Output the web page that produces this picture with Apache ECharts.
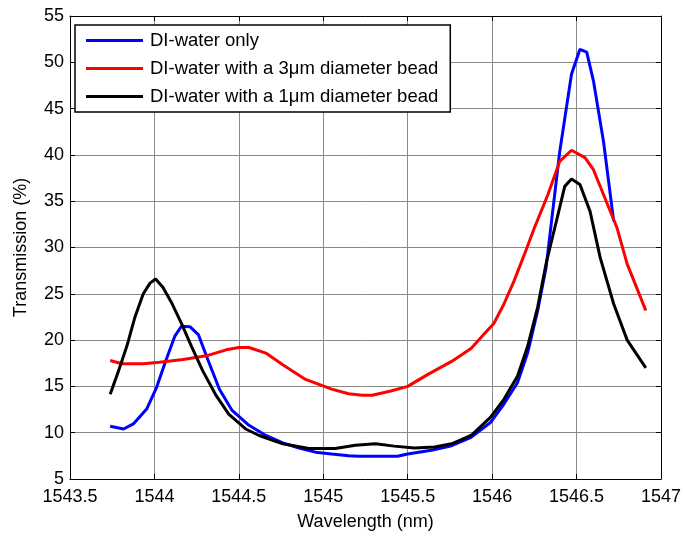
<!DOCTYPE html>
<html><head><meta charset="utf-8">
<script src="https://cdn.jsdelivr.net/npm/echarts@6/dist/echarts.min.js"></script>
<style>html,body{margin:0;padding:0;background:#fff}#c{width:684px;height:536px}</style>
</head><body><div id="c"></div>
<script>
const seriesNames = ['DI-water only', 'DI-water with a 3\u03bcm diameter bead', 'DI-water with a 1\u03bcm diameter bead'];
const xTicks = [1543.5, 1544, 1544.5, 1545, 1545.5, 1546, 1546.5, 1547];
const yTicks = [5, 10, 15, 20, 25, 30, 35, 40, 45, 50, 55];

const waterOnly = [
 [1543.738,10.7],[1543.817,10.4],[1543.875,10.95],[1543.954,12.55],[1544.013,14.9],[1544.062,17.5],
 [1544.12,20.4],[1544.16,21.5],[1544.21,21.45],[1544.26,20.6],[1544.316,17.9],[1544.385,14.7],
 [1544.46,12.4],[1544.56,10.8],[1544.66,9.7],[1544.76,8.9],[1544.856,8.35],[1544.954,7.9],
 [1545.05,7.7],[1545.15,7.5],[1545.21,7.45],[1545.44,7.45],[1545.5,7.7],[1545.64,8.1],
 [1545.76,8.6],[1545.875,9.5],[1545.99,11.1],[1546.07,13.1],[1546.15,15.4],[1546.21,18.6],
 [1546.27,23.2],[1546.32,27.9],[1546.40,40.3],[1546.47,48.7],[1546.52,51.4],[1546.56,51.1],
 [1546.60,48.0],[1546.66,41.4],[1546.72,32.85]
];
const bead3um = [
 [1543.738,17.8],[1543.807,17.45],[1543.934,17.45],[1544.03,17.6],[1544.17,17.9],[1544.307,18.3],
 [1544.425,18.95],[1544.50,19.2],[1544.56,19.2],[1544.66,18.6],[1544.76,17.35],[1544.895,15.75],
 [1545.05,14.7],[1545.15,14.2],[1545.23,14.05],[1545.29,14.05],[1545.40,14.5],[1545.5,15.0],
 [1545.62,16.3],[1545.76,17.7],[1545.875,19.1],[1545.95,20.6],[1546.01,21.8],[1546.07,23.9],
 [1546.13,26.4],[1546.19,29.2],[1546.25,32.1],[1546.33,35.7],[1546.40,39.3],[1546.47,40.5],
 [1546.55,39.7],[1546.60,38.4],[1546.66,35.7],[1546.74,32.1],[1546.80,28.2],[1546.84,26.4],
 [1546.91,23.2]
];
const bead1um = [
 [1543.738,14.15],[1543.787,16.65],[1543.836,19.3],[1543.885,22.5],[1543.934,25.0],[1543.974,26.15],
 [1544.007,26.6],[1544.05,25.7],[1544.10,24.1],[1544.16,21.8],[1544.22,19.3],[1544.287,16.65],
 [1544.366,14.0],[1544.44,12.0],[1544.54,10.4],[1544.62,9.7],[1544.76,8.8],[1544.915,8.3],
 [1545.07,8.3],[1545.19,8.65],[1545.31,8.8],[1545.42,8.55],[1545.54,8.35],[1545.66,8.45],
 [1545.76,8.8],[1545.875,9.7],[1545.99,11.65],[1546.07,13.6],[1546.15,16.1],[1546.21,19.3],
 [1546.27,23.6],[1546.32,28.3],[1546.39,33.55],[1546.43,36.6],[1546.47,37.4],[1546.52,36.8],
 [1546.58,33.9],[1546.64,28.9],[1546.72,23.9],[1546.80,20.0],[1546.91,17.0]
];

const font = 'Liberation Sans, Arial, sans-serif';
const chart = echarts.init(document.getElementById('c'));
const gridLine = {show:true, lineStyle:{color:'#8a8a8a', width:1}};
function mkX(pos, labels) {
  return {type:'value', min:xTicks[0], max:xTicks[xTicks.length-1], interval:0.5, position:pos,
    axisLine:{show:true, onZero:false, lineStyle:{color:'#000', width:1}},
    axisTick:{show:true, inside:true, length:5, lineStyle:{color:'#000'}},
    axisLabel:{show:labels, color:'#000', fontSize:18, fontFamily:font, margin:9,
      formatter: v => String(v)},
    splitLine: labels ? gridLine : {show:false},
    name: labels ? 'Wavelength (nm)' : '', nameLocation:'middle', nameGap:34,
    nameTextStyle:{color:'#000', fontSize:18, fontFamily:font}};
}
function mkY(pos, labels) {
  return {type:'value', min:yTicks[0], max:yTicks[yTicks.length-1], interval:5, position:pos,
    axisLine:{show:true, onZero:false, lineStyle:{color:'#000', width:1}},
    axisTick:{show:true, inside:true, length:5, lineStyle:{color:'#000'}},
    axisLabel:{show:labels, color:'#000', fontSize:18, fontFamily:font, margin:6,
      formatter: v => String(v)},
    splitLine: labels ? gridLine : {show:false},
    name: labels ? 'Transmission (%)' : '', nameLocation:'middle', nameGap:40,
    nameTextStyle:{color:'#000', fontSize:18, fontFamily:font}};
}
const colors = ['#0000ff', '#ff0000', '#000000'];
const datas = [waterOnly, bead3um, bead1um];
chart.setOption({
  animation:false,
  backgroundColor:'#fff',
  grid:{left:70, right:19, top:16, bottom:52},
  xAxis:[mkX('bottom', true), mkX('top', false)],
  yAxis:[mkY('left', true), mkY('right', false)],
  legend:{
    orient:'vertical', left:75, top:25, backgroundColor:'#fff',
    borderColor:'#000', borderWidth:1.5, borderRadius:0,
    padding:[6, 12, 6, 11], itemGap:9, itemWidth:57, itemHeight:3, icon:'rect',
    textStyle:{color:'#000', fontSize:18.5, fontFamily:font, padding:[0,0,0,2]},
    data: seriesNames
  },
  series: seriesNames.map((n,i)=>({
    name:n, type:'line', data:datas[i], showSymbol:false, symbol:'none',
    lineStyle:{color:colors[i], width:3}, itemStyle:{color:colors[i]}, z:2+i
  }))
});
</script></body></html>
